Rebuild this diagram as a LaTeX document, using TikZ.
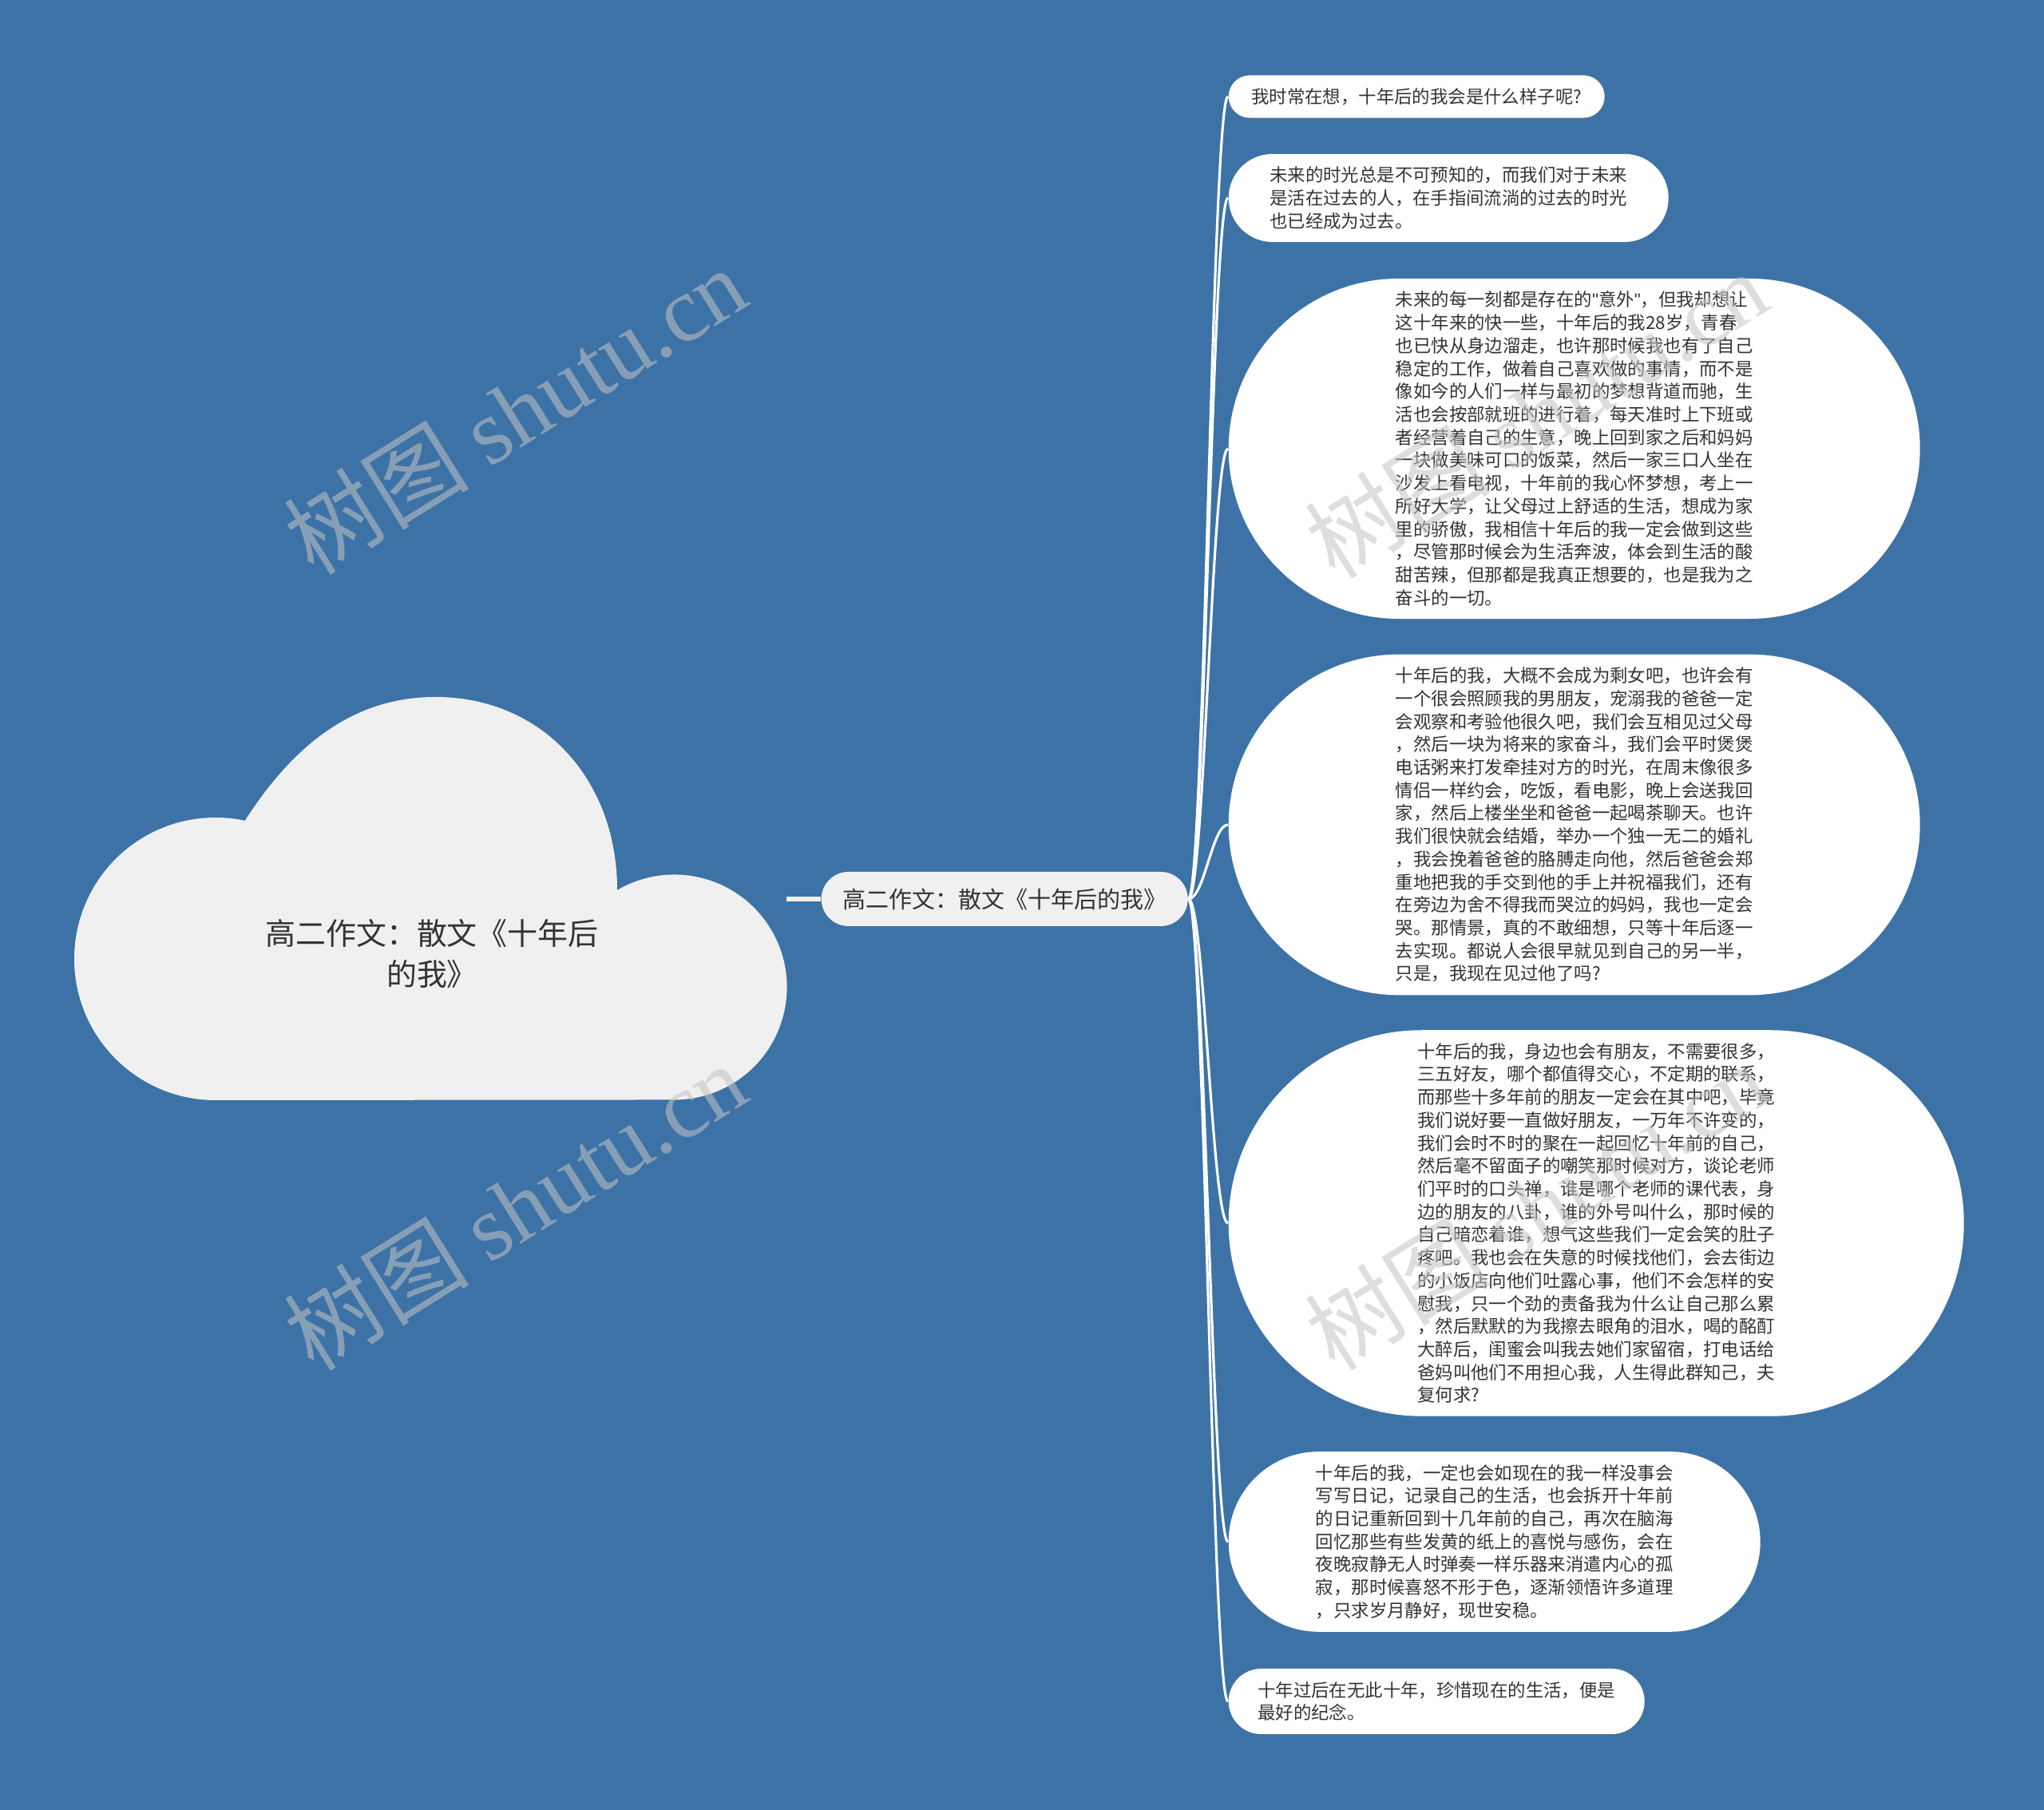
\documentclass[tikz,border=0pt]{standalone}
\usepackage{fontspec}
\setmainfont{Noto Sans CJK SC}
\newfontfamily\wmfont{Liberation Serif}
\newfontfamily\qfont{Liberation Sans}
\usetikzlibrary{shapes.misc}
\definecolor{bgblue}{HTML}{3D72A6}
\definecolor{cloudgray}{HTML}{F0F0F0}
\definecolor{inkgray}{HTML}{333333}
\definecolor{wmgray}{HTML}{C4C4C4}
\begin{document}
\begin{tikzpicture}[every node/.style={text=inkgray},
  leaf/.style={rounded rectangle,fill=white,inner xsep=0.02cm,inner ysep=0.16cm,anchor=west,align=left,font=\fontsize{6.37pt}{8.17pt}\selectfont},
  topic/.style={rounded rectangle,fill=cloudgray,inner xsep=0.05cm,minimum height=0.68cm,minimum width=4.69cm,anchor=west,font=\fontsize{8.25pt}{9.8pt}\selectfont},
  link/.style={white,line width=0.9pt},
  wmark/.style={text=wmgray,text opacity=0.55,rotate=32,font=\fontsize{33pt}{33pt}\selectfont}]
\useasboundingbox (0,0) rectangle (25.6,22.67);
\fill[bgblue] (0,0) rectangle (25.6,22.67);
% root cloud
\fill[cloudgray] (2.70,8.89) arc[start angle=270,end angle=78,radius=1.77]
  .. controls (3.57,13.17) and (4.30,13.94) .. (5.45,13.94)
  .. controls (6.80,13.94) and (7.73,12.90) .. (7.73,11.52)
  arc[start angle=120.5,end angle=-90,radius=1.41] -- cycle;
\node[align=center,font=\fontsize{10.8pt}{14.5pt}\selectfont] (root) at (5.41,10.72) {高二作文：散文《十年后\\的我》};
\coordinate (rootE) at (9.85,11.41);
% main topic
\node[topic] (main) at (10.28,11.41) {高二作文：散文《十年后的我》};
\draw[cloudgray,line width=1.7pt] (rootE) -- (main.west);
% leaves
\node[leaf,minimum width=4.75cm,minimum height=0.52cm] (n1) at (15.38,21.46) {我时常在想，十年后的我会是什么样子呢?};
\node[leaf,minimum width=5.55cm,minimum height=1.10cm] (n2) at (15.38,20.19) {未来的时光总是不可预知的，而我们对于未来\\是活在过去的人，在手指间流淌的过去的时光\\也已经成为过去。};
\node[leaf,minimum width=8.70cm,minimum height=4.26cm] (n3) at (15.38,17.05) {未来的每一刻都是存在的{\qfont"}意外{\qfont"}，但我却想让\\这十年来的快一些，十年后的我28岁，青春\\也已快从身边溜走，也许那时候我也有了自己\\稳定的工作，做着自己喜欢做的事情，而不是\\像如今的人们一样与最初的梦想背道而驰，生\\活也会按部就班的进行着，每天准时上下班或\\者经营着自己的生意，晚上回到家之后和妈妈\\一块做美味可口的饭菜，然后一家三口人坐在\\沙发上看电视，十年前的我心怀梦想，考上一\\所好大学，让父母过上舒适的生活，想成为家\\里的骄傲，我相信十年后的我一定会做到这些\\，尽管那时候会为生活奔波，体会到生活的酸\\甜苦辣，但那都是我真正想要的，也是我为之\\奋斗的一切。};
\node[leaf,minimum width=8.70cm,minimum height=4.25cm] (n4) at (15.38,12.34) {十年后的我，大概不会成为剩女吧，也许会有\\一个很会照顾我的男朋友，宠溺我的爸爸一定\\会观察和考验他很久吧，我们会互相见过父母\\，然后一块为将来的家奋斗，我们会平时煲煲\\电话粥来打发牵挂对方的时光，在周末像很多\\情侣一样约会，吃饭，看电影，晚上会送我回\\家，然后上楼坐坐和爸爸一起喝茶聊天。也许\\我们很快就会结婚，举办一个独一无二的婚礼\\，我会挽着爸爸的胳膊走向他，然后爸爸会郑\\重地把我的手交到他的手上并祝福我们，还有\\在旁边为舍不得我而哭泣的妈妈，我也一定会\\哭。那情景，真的不敢细想，只等十年后逐一\\去实现。都说人会很早就见到自己的另一半，\\只是，我现在见过他了吗?};
\node[leaf,minimum width=9.25cm,minimum height=4.81cm] (n5) at (15.38,7.35) {十年后的我，身边也会有朋友，不需要很多，\\三五好友，哪个都值得交心，不定期的联系，\\而那些十多年前的朋友一定会在其中吧，毕竟\\我们说好要一直做好朋友，一万年不许变的，\\我们会时不时的聚在一起回忆十年前的自己，\\然后毫不留面子的嘲笑那时候对方，谈论老师\\们平时的口头禅，谁是哪个老师的课代表，身\\边的朋友的八卦，谁的外号叫什么，那时候的\\自己暗恋着谁，想气这些我们一定会笑的肚子\\疼吧。我也会在失意的时候找他们，会去街边\\的小饭店向他们吐露心事，他们不会怎样的安\\慰我，只一个劲的责备我为什么让自己那么累\\，然后默默的为我擦去眼角的泪水，喝的酩酊\\大醉后，闺蜜会叫我去她们家留宿，打电话给\\爸妈叫他们不用担心我，人生得此群知己，夫\\复何求?};
\node[leaf,minimum width=6.70cm,minimum height=2.23cm] (n6) at (15.38,3.36) {十年后的我，一定也会如现在的我一样没事会\\写写日记，记录自己的生活，也会拆开十年前\\的日记重新回到十几年前的自己，再次在脑海\\回忆那些有些发黄的纸上的喜悦与感伤，会在\\夜晚寂静无人时弹奏一样乐器来消遣内心的孤\\寂，那时候喜怒不形于色，逐渐领悟许多道理\\，只求岁月静好，现世安稳。};
\node[leaf,minimum width=5.25cm,minimum height=0.82cm] (n7) at (15.38,1.36) {十年过后在无此十年，珍惜现在的生活，便是\\最好的纪念。};
% links
\draw[link] (main.east) .. controls +(0.2,0) and +(-0.2,0) .. (n1.west);
\draw[link] (main.east) .. controls +(0.2,0) and +(-0.2,0) .. (n2.west);
\draw[link] (main.east) .. controls +(0.2,0) and +(-0.2,0) .. (n3.west);
\draw[link] (main.east) .. controls +(0.2,0) and +(-0.2,0) .. (n4.west);
\draw[link] (main.east) .. controls +(0.2,0) and +(-0.2,0) .. (n5.west);
\draw[link] (main.east) .. controls +(0.2,0) and +(-0.2,0) .. (n6.west);
\draw[link] (main.east) .. controls +(0.2,0) and +(-0.2,0) .. (n7.west);
% watermarks
\node[wmark] (wm1) at (6.45,17.53) {树图 {\wmfont shutu.cn}};
\node[wmark] (wm2) at (6.45,7.56) {树图 {\wmfont shutu.cn}};
\node[wmark] (wm3) at (19.24,17.48) {树图 {\wmfont shutu.cn}};
\node[wmark] (wm4) at (19.24,7.56) {树图 {\wmfont shutu.cn}};
\end{tikzpicture}
\end{document}
